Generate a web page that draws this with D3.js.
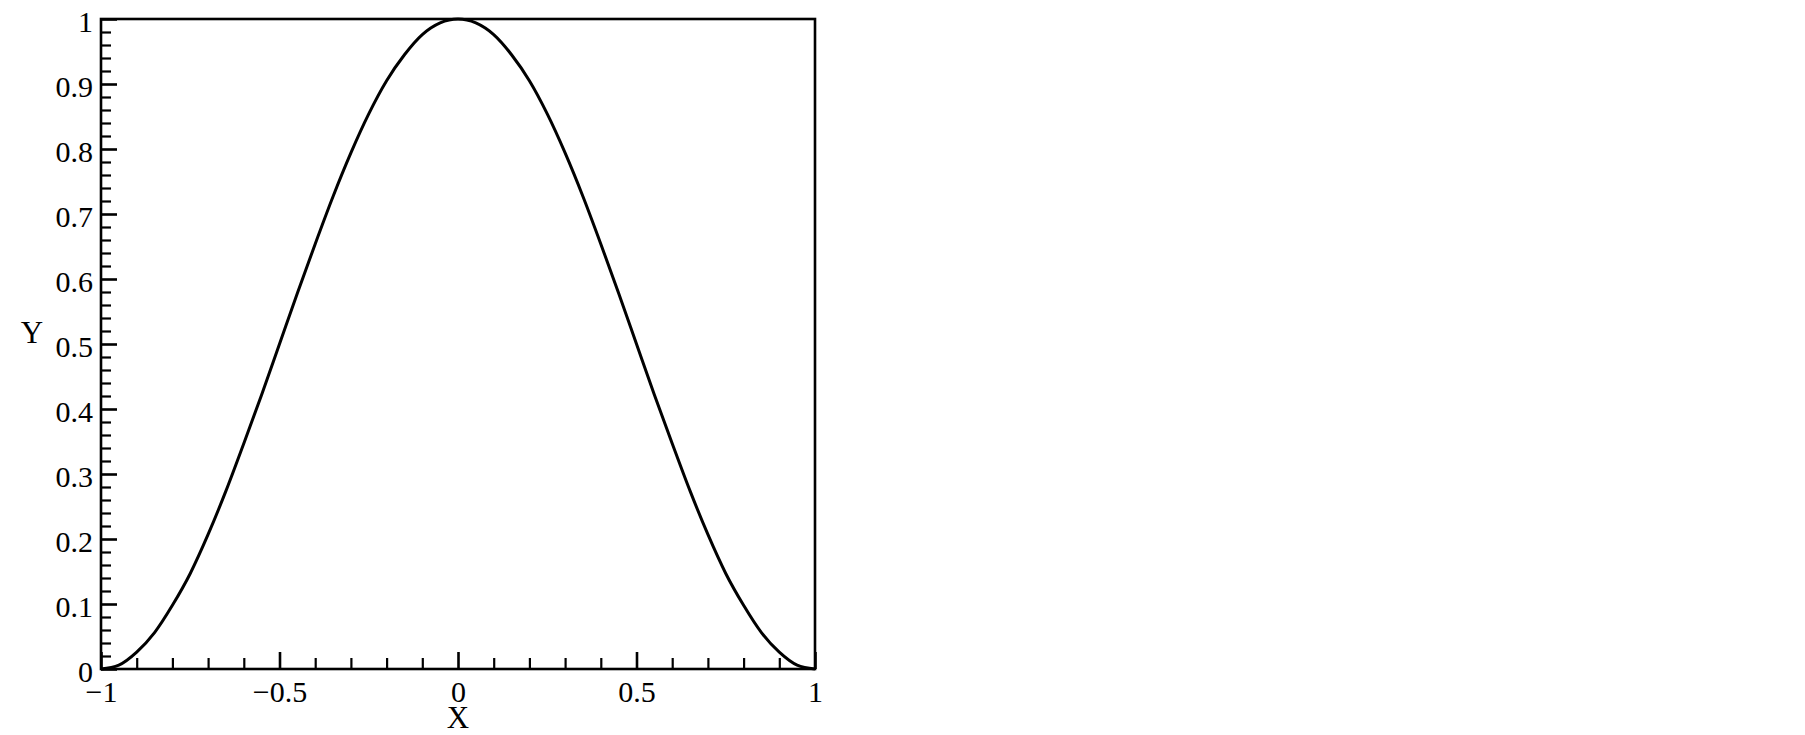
<!DOCTYPE html>
<html>
<head>
<meta charset="utf-8">
<script src="https://cdn.jsdelivr.net/npm/d3@7"></script>
<style>
  body { margin: 0; background: #fff; }
  svg { display: block; }
  text { font-family: "Liberation Serif", "Times New Roman", serif; fill: #000; }
</style>
</head>
<body>
<div id="chart"></div>
<script>
// curve values
const xValues = [-1, -0.95, -0.9, -0.85, -0.8, -0.75, -0.7, -0.65, -0.6, -0.55, -0.5,
  -0.45, -0.4, -0.35, -0.3, -0.25, -0.2, -0.15, -0.1, -0.05, 0,
  0.05, 0.1, 0.15, 0.2, 0.25, 0.3, 0.35, 0.4, 0.45, 0.5,
  0.55, 0.6, 0.65, 0.7, 0.75, 0.8, 0.85, 0.9, 0.95, 1];
const yValues = [0, 0.006, 0.026, 0.056, 0.098, 0.147, 0.207, 0.274, 0.347, 0.422, 0.5,
  0.578, 0.654, 0.727, 0.794, 0.854, 0.905, 0.945, 0.976, 0.994, 1,
  0.994, 0.976, 0.945, 0.905, 0.854, 0.794, 0.727, 0.654, 0.578, 0.5,
  0.422, 0.347, 0.274, 0.207, 0.147, 0.098, 0.056, 0.026, 0.006, 0];

const xTickValues = [-1, -0.5, 0, 0.5, 1];
const xTickLabels = ["\u22121", "\u22120.5", "0", "0.5", "1"];
const xMinorTicks = [-0.9, -0.8, -0.7, -0.6, -0.4, -0.3, -0.2, -0.1, 0.1, 0.2, 0.3, 0.4, 0.6, 0.7, 0.8, 0.9];
const yTickValues = [0, 0.1, 0.2, 0.3, 0.4, 0.5, 0.6, 0.7, 0.8, 0.9, 1];
const yTickLabels = ["0", "0.1", "0.2", "0.3", "0.4", "0.5", "0.6", "0.7", "0.8", "0.9", "1"];
const yMinorTicks = d3.range(0, 50).filter((i) => i % 5 !== 0).map((i) => i / 50);

const w = 1805;
const h = 735;
const plotLeft = 101, plotRight = 815, plotTop = 19, plotBottom = 669;

const svg = d3.select("#chart").append("svg").attr("width", w).attr("height", h);

const xScale = d3.scaleLinear().domain([-1, 1]).range([plotLeft, plotRight]);
const yScale = d3.scaleLinear().domain([0, 1]).range([plotBottom, plotTop]);

// frame (top and right plain)
svg.append("rect")
  .attr("x", plotLeft).attr("y", plotTop)
  .attr("width", plotRight - plotLeft).attr("height", plotBottom - plotTop)
  .attr("fill", "none").attr("stroke", "#000").attr("stroke-width", 2.6);

// minor ticks
svg.append("g")
  .attr("transform", `translate(0, ${plotBottom})`)
  .call(d3.axisBottom(xScale).tickValues(xMinorTicks).tickSizeInner(-11).tickSizeOuter(0).tickFormat(""))
  .call((g) => g.select(".domain").remove())
  .call((g) => g.selectAll("line").attr("stroke-width", 2.2));

svg.append("g")
  .attr("transform", `translate(${plotLeft}, 0)`)
  .call(d3.axisLeft(yScale).tickValues(yMinorTicks).tickSizeInner(-10).tickSizeOuter(0).tickFormat(""))
  .call((g) => g.select(".domain").remove())
  .call((g) => g.selectAll("line").attr("stroke-width", 2.2));

// major ticks + labels
const xAxis = d3.axisBottom(xScale)
  .tickValues(xTickValues)
  .tickSizeInner(-17).tickSizeOuter(0).tickPadding(12)
  .tickFormat((d, i) => xTickLabels[i]);

svg.append("g")
  .attr("transform", `translate(0, ${plotBottom})`)
  .call(xAxis)
  .call((g) => g.select(".domain").remove())
  .call((g) => g.selectAll("line").attr("stroke-width", 2.6))
  .call((g) => g.selectAll("text").style("font-size", "30px").attr("font-family", null).attr("fill", "#000"));

const yAxis = d3.axisLeft(yScale)
  .tickValues(yTickValues)
  .tickSizeInner(-16).tickSizeOuter(0).tickPadding(8)
  .tickFormat((d, i) => yTickLabels[i]);

svg.append("g")
  .attr("transform", `translate(${plotLeft}, 0)`)
  .call(yAxis)
  .call((g) => g.select(".domain").remove())
  .call((g) => g.selectAll("line").attr("stroke-width", 2.6))
  .call((g) => g.selectAll("text").style("font-size", "30px").attr("font-family", null).attr("fill", "#000").attr("dy", "0.42em"));

// curve
const data = xValues.map((x, i) => [x, yValues[i]]);
svg.append("path")
  .datum(data)
  .attr("fill", "none")
  .attr("stroke", "#000")
  .attr("stroke-width", 3)
  .attr("d", d3.line().x((d) => xScale(d[0])).y((d) => yScale(d[1])).curve(d3.curveMonotoneX));

// axis titles
svg.append("text")
  .attr("x", xScale(0))
  .attr("y", 728)
  .attr("text-anchor", "middle")
  .style("font-size", "31px")
  .text("X");

svg.append("text")
  .attr("x", 32)
  .attr("y", 343)
  .attr("text-anchor", "middle")
  .style("font-size", "31px")
  .text("Y");
</script>
</body>
</html>
